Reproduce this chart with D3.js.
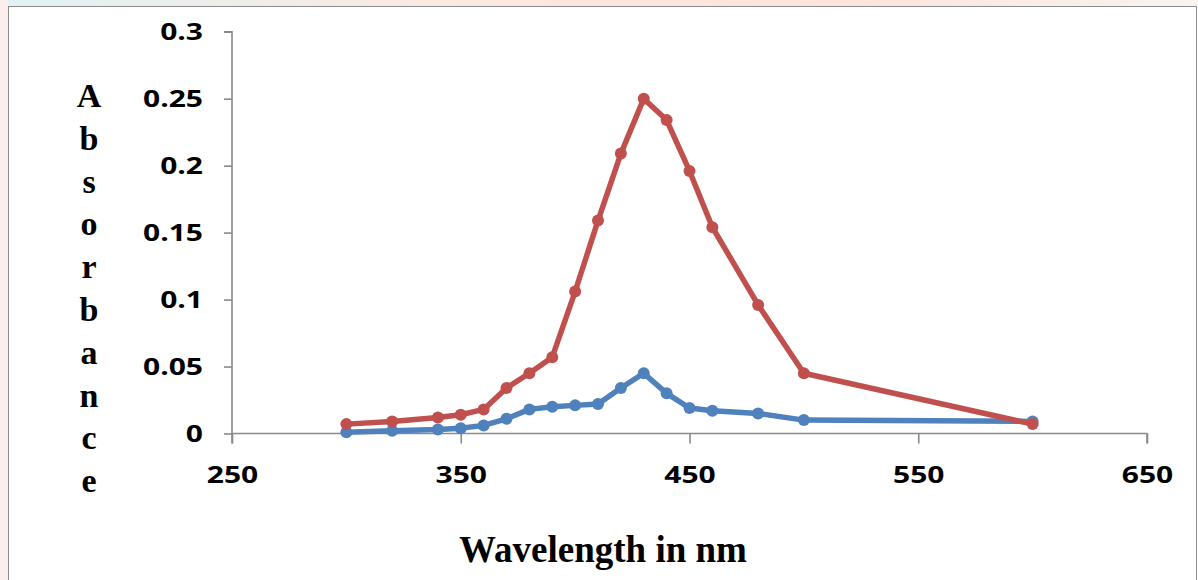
<!DOCTYPE html>
<html>
<head>
<meta charset="utf-8">
<script src="https://cdn.jsdelivr.net/npm/d3@7"></script>
<style>
  body { margin: 0; background: #fff; }
  svg { display: block; }
</style>
</head>
<body>
<svg id="chart" width="1198" height="580"></svg>
<script>
// absorbance data
const wavelengths = [300, 320, 340, 350, 360, 370, 380, 390, 400, 410, 420, 430, 440, 450, 460, 480, 500, 600];
const redSeries   = [0.007, 0.009, 0.012, 0.014, 0.018, 0.034, 0.045, 0.057, 0.106, 0.159, 0.209, 0.250, 0.234, 0.196, 0.154, 0.096, 0.045, 0.007];
const blueSeries  = [0.001, 0.002, 0.003, 0.004, 0.006, 0.011, 0.018, 0.020, 0.021, 0.022, 0.034, 0.045, 0.030, 0.019, 0.017, 0.015, 0.010, 0.009];
const xTicks = [250, 350, 450, 550, 650];
const yTicks = [0, 0.05, 0.1, 0.15, 0.2, 0.25, 0.3];
const yLetters = ["A", "b", "s", "o", "r", "b", "a", "n", "c", "e"];

const svg = d3.select("#chart");

// faint background strip above the frame
const defs = svg.append("defs");
const grad = defs.append("linearGradient").attr("id", "wm");
grad.append("stop").attr("offset", "0%").attr("stop-color", "#dff3f4");
grad.append("stop").attr("offset", "35%").attr("stop-color", "#fbe9e2");
grad.append("stop").attr("offset", "70%").attr("stop-color", "#fde3dc");
grad.append("stop").attr("offset", "100%").attr("stop-color", "#f8f4ef");
svg.append("rect").attr("x", 0).attr("y", 0).attr("width", 1198).attr("height", 6).attr("fill", "url(#wm)");
svg.append("rect").attr("x", 0).attr("y", 0).attr("width", 8).attr("height", 580).attr("fill", "#fdeeee");

// chart frame
svg.append("rect")
    .attr("x", 8.5).attr("y", 6.5)
    .attr("width", 1188).attr("height", 580)
    .attr("fill", "#fff")
    .attr("stroke", "#8c8c8c")
    .attr("stroke-width", 1);

const x = d3.scaleLinear().domain([250, 650]).range([232, 1147]);
const y = d3.scaleLinear().domain([0, 0.3]).range([433.5, 31.7]);

const axisColor = "#8a8a8a";
const tickFont = "'Open Sans', 'DejaVu Sans', sans-serif";
const stretch = 1.25; // the source picture is a bit wide

// y axis
const yAxis = svg.append("g")
    .attr("transform", `translate(${x(250)},0)`)
    .call(d3.axisLeft(y).tickValues(yTicks).tickSize(8).tickPadding(21)
        .tickFormat(d => d3.format("")(+d.toFixed(2))));
yAxis.selectAll("path").attr("d", `M-8,${y(0.3)}H0V${y(0) + 10}`);
yAxis.selectAll(".tick text")
    .attr("x", 0)
    .attr("transform", `translate(-29,0) scale(${stretch},1)`);

// x axis
const xAxis = svg.append("g")
    .attr("transform", `translate(0,${y(0)})`)
    .call(d3.axisBottom(x).tickValues(xTicks).tickSize(10));
xAxis.select(".domain").attr("d", `M${x(250)},0H${x(650)}V10`);
xAxis.selectAll(".tick text")
    .attr("y", 41)
    .attr("dy", "0.36em")
    .attr("transform", `scale(${stretch},1)`);

svg.selectAll(".domain, .tick line")
    .attr("stroke", axisColor)
    .attr("stroke-width", 1.6);
svg.selectAll(".tick text")
    .attr("fill", "#000")
    .style("font-family", tickFont)
    .style("font-weight", "bold")
    .style("font-size", "24px");

// series lines
const line = d3.line().x(d => x(d[0])).y(d => y(d[1]));

function drawSeries(values, color) {
    const pts = wavelengths.map((w, i) => [w, values[i]]);
    svg.append("path")
        .datum(pts)
        .attr("d", line)
        .attr("fill", "none")
        .attr("stroke", color)
        .attr("stroke-width", 5.5)
        .attr("stroke-linejoin", "round");
    svg.append("g").selectAll("circle")
        .data(pts)
        .join("circle")
        .attr("cx", d => x(d[0]))
        .attr("cy", d => y(d[1]))
        .attr("r", 6)
        .attr("fill", color);
}

drawSeries(blueSeries, "#4f81bd");
drawSeries(redSeries, "#c0504d");

// axis titles
svg.append("text")
    .attr("x", 603).attr("y", 562)
    .attr("text-anchor", "middle")
    .style("font-family", "'Liberation Serif', 'Times New Roman', serif")
    .style("font-weight", "bold")
    .style("font-size", "37px")
    .text("Wavelength in nm");

svg.append("g").selectAll("text")
    .data(yLetters)
    .join("text")
    .attr("x", 89)
    .attr("y", (d, i) => 107 + i * 42.8)
    .attr("text-anchor", "middle")
    .style("font-family", "'Liberation Serif', 'Times New Roman', serif")
    .style("font-weight", "bold")
    .style("font-size", "34px")
    .text(d => d);
</script>
</body>
</html>
